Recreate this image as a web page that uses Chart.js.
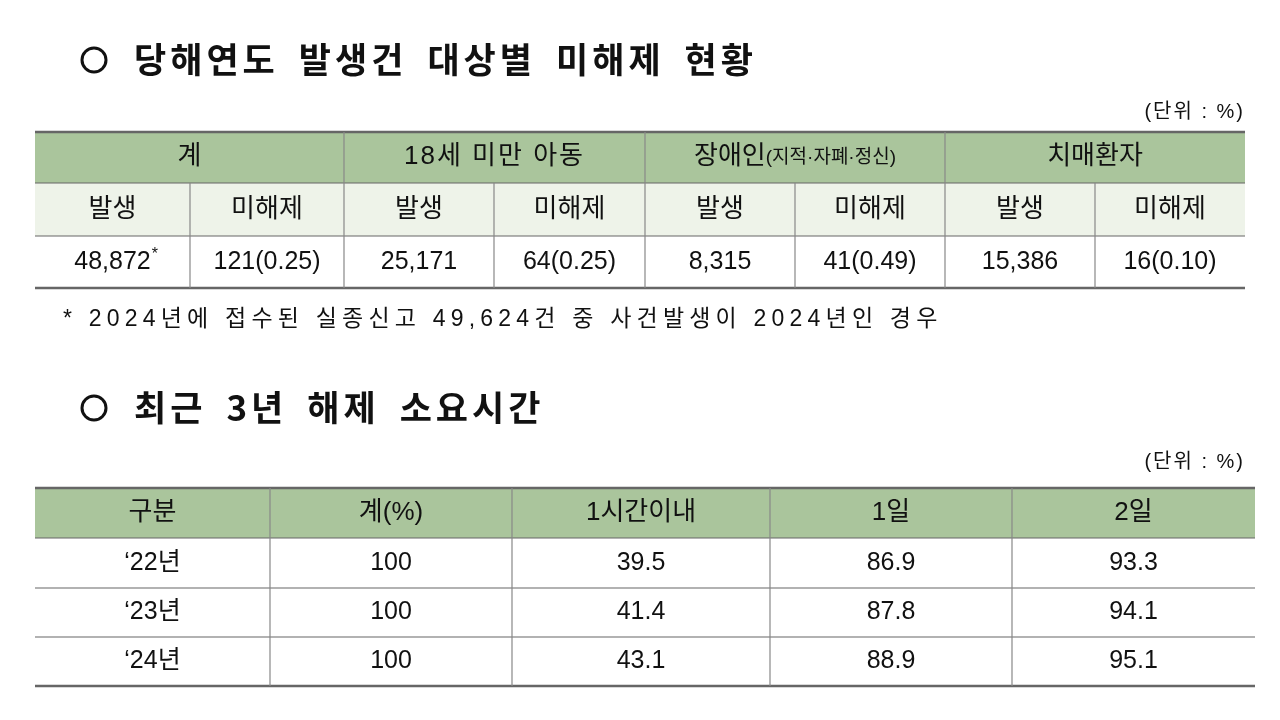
<!DOCTYPE html>
<html><head><meta charset="utf-8">
<script src="https://cdn.jsdelivr.net/npm/chart.js@4"></script>
<style>body{margin:0;background:#fff}canvas{display:block}</style>
</head><body>
<canvas id="myChart" width="1280" height="720"></canvas>
<script>
// table 1 data
const groups = ['계', '18세 미만 아동', '장애인', '치매환자'];
const subHeaders = ['발생', '미해제'];
const occurred = ['48,872', '25,171', '8,315', '15,386'];
const unreleased = ['121(0.25)', '64(0.25)', '41(0.49)', '16(0.10)'];
const footnote = '* 2024년에 접수된 실종신고 49,624건 중 사건발생이 2024년인 경우';

// table 2 data
const headers2 = ['구분', '계(%)', '1시간이내', '1일', '2일'];
const years = ['‘22년', '‘23년', '‘24년'];
const totals = [100, 100, 100];
const within1h = [39.5, 41.4, 43.1];
const within1d = [86.9, 87.8, 88.9];
const within2d = [93.3, 94.1, 95.1];

const FONT = '"Liberation Sans", "Noto Sans CJK KR", sans-serif';
const GREEN = '#aac59c';
const LIGHT = '#eef3e9';

const tablePlugin = {
  id: 'tables',
  afterDraw(chart) {
    const ctx = chart.ctx;
    const X = v => chart.scales.x.getPixelForValue(v);
    const Y = v => chart.scales.y.getPixelForValue(v);
    ctx.save();
    ctx.textBaseline = 'middle';

    function text(s, x, y, size, align, weight, spacing) {
      ctx.font = (weight || '') + ' ' + size + 'px ' + FONT;
      ctx.letterSpacing = (spacing || 0) + 'px';
      ctx.textAlign = align || 'center';
      ctx.fillStyle = '#111';
      ctx.fillText(s, X(x), Y(y));
      ctx.letterSpacing = '0px';
    }
    function rect(x0, y0, x1, y1, c) {
      ctx.fillStyle = c;
      ctx.fillRect(X(x0), Y(y0), X(x1) - X(x0), Y(y1) - Y(y0));
    }
    function line(x0, y0, x1, y1, w, c) {
      ctx.strokeStyle = c || '#555';
      ctx.lineWidth = w;
      ctx.beginPath();
      ctx.moveTo(X(x0), Y(y0));
      ctx.lineTo(X(x1), Y(y1));
      ctx.stroke();
    }
    function title(s, y) {
      ctx.lineWidth = 3; ctx.strokeStyle = '#111';
      ctx.beginPath(); ctx.arc(X(94), Y(y), 12, 0, Math.PI * 2); ctx.stroke();
      ctx.font = 'bold 35px "Noto Sans CJK KR", sans-serif';
      ctx.letterSpacing = '4px';
      ctx.textAlign = 'left'; ctx.fillStyle = '#111';
      const words = s.split(' ');
      let x = X(134);
      words.forEach(w => { ctx.fillText(w, x, Y(y)); x += ctx.measureText(w).width + 20; });
      ctx.letterSpacing = '0px';
    }

    // table 1
    title('당해연도 발생건 대상별 미해제 현황', 60);
    text('(단위 : %)', 1245, 112, 20, 'right', '', 2);
    const cols = [35, 190, 344, 494, 645, 795, 945, 1095, 1245];
    const rows = [132, 183, 236, 288];
    rect(35, rows[0], 1245, rows[1], GREEN);
    rect(35, rows[1], 1245, rows[2], LIGHT);
    for (let g = 0; g < 4; g++) {
      const cx = (cols[g * 2] + cols[g * 2 + 2]) / 2;
      if (g === 2) {
        ctx.font = '26px ' + FONT;
        const a = ctx.measureText('장애인').width;
        ctx.font = '19px ' + FONT;
        const b = ctx.measureText('(지적·자폐·정신)').width;
        const sx = cx - (a + b) / 2;
        text('장애인', sx, 157, 26, 'left');
        text('(지적·자폐·정신)', sx + a, 158, 19, 'left');
      } else {
        text(groups[g], cx, 157, 26, 'center', '', g === 1 ? 2 : 0);
      }
      for (let s = 0; s < 2; s++) {
        const c = g * 2 + s;
        const mx = (cols[c] + cols[c + 1]) / 2;
        text(subHeaders[s], mx, 210, 26);
        text(s === 0 ? occurred[g] : unreleased[g], mx, 262, 25);
        if (g === 0 && s === 0) {
          ctx.font = '25px ' + FONT;
          const w = ctx.measureText(occurred[0]).width;
          text('*', mx + w / 2 + 1, 255, 16, 'left');
        }
      }
    }
    rows.forEach((r, i) => line(35, r, 1245, r, i === 0 || i === 3 ? 2.5 : 1.2, '#666'));
    for (let i = 1; i < cols.length - 1; i++) {
      line(cols[i], i % 2 === 0 ? rows[0] : rows[1], cols[i], rows[3], 1.2, '#888');
    }
    text(footnote, 63, 320, 23, 'left', '', 5.2);

    // table 2
    title('최근 3년 해제 소요시간', 408);
    text('(단위 : %)', 1245, 462, 20, 'right', '', 2);
    const cols2 = [35, 270, 512, 770, 1012, 1255];
    const rows2 = [488, 538, 588, 637, 686];
    rect(35, rows2[0], 1255, rows2[1], GREEN);
    const body = [years, totals, within1h, within1d, within2d];
    for (let c = 0; c < 5; c++) {
      const mx = (cols2[c] + cols2[c + 1]) / 2;
      text(headers2[c], mx, 513, 26);
      for (let r = 0; r < 3; r++) {
        const v = body[c][r];
        text(typeof v === 'number' && c > 1 ? v.toFixed(1) : String(v), mx, (rows2[r + 1] + rows2[r + 2]) / 2, 25);
      }
    }
    rows2.forEach((r, i) => line(35, r, 1255, r, i === 0 || i === 4 ? 2.5 : 1.2, '#666'));
    for (let i = 1; i < cols2.length - 1; i++) line(cols2[i], rows2[0], cols2[i], rows2[4], 1.2, '#888');
    ctx.restore();
  }
};

new Chart(document.getElementById('myChart').getContext('2d'), {
  type: 'scatter',
  data: { datasets: [] },
  options: {
    responsive: false,
    animation: false,
    layout: { padding: 0 },
    plugins: { legend: { display: false }, tooltip: { enabled: false } },
    scales: {
      x: { type: 'linear', min: 0, max: 1280, display: false },
      y: { type: 'linear', min: 0, max: 720, reverse: true, display: false }
    }
  },
  plugins: [tablePlugin]
});
</script>
</body></html>
